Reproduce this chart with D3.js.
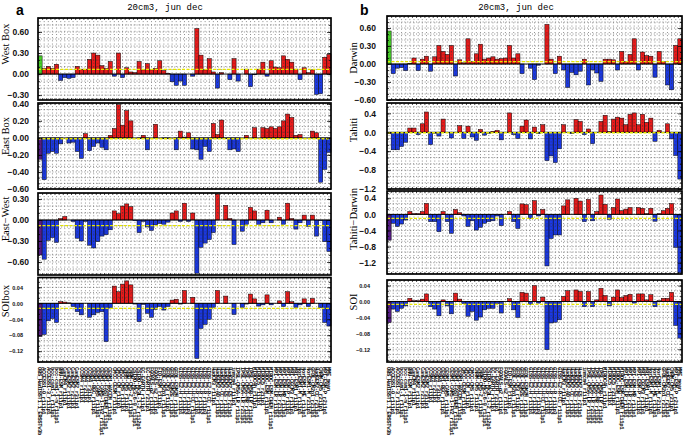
<!DOCTYPE html>
<html>
<head>
<meta charset="utf-8">
<script src="https://cdn.jsdelivr.net/npm/d3@7"></script>
<style>
	body { margin: 0; background: #fff; }
	svg { display: block; }
</style>
</head>
<body>
<div id="chart"></div>
<script>
// ********** ENSO INDEX BAR PANELS **********

// Model labels along the bottom (first entry = observations)
const models = [
	'OBS_HadISST1.1_ERSSTv3b', 'ACCESS1-0_r1i1p1', 'ACCESS1-3_r1i1p1', 'bcc-csm1-1_r1i1p1', 'bcc-csm1-1-m_r1i1p1',
	'BNU-ESM_r1i1p1', 'CanCM4_r1i1p1', 'CanESM2_r1i1p1', 'CanESM2_r2i1p1', 'CanESM2_r3i1p1',
	'CCSM4_r1i1p1', 'CCSM4_r2i1p1', 'CCSM4_r3i1p1', 'CESM1-BGC_r1i1p1', 'CESM1-CAM5_r1i1p1',
	'CESM1-CAM5-1-FV2_r1i1p1', 'CESM1-FASTCHEM_r1i1p1', 'CESM1-WACCM_r1i1p1', 'CMCC-CESM_r1i1p1', 'CMCC-CM_r1i1p1',
	'CMCC-CMS_r1i1p1', 'CNRM-CM5_r1i1p1', 'CNRM-CM5-2_r1i1p1', 'CSIRO-Mk3-6-0_r1i1p1', 'CSIRO-Mk3L-1-2_r1i2p1',
	'EC-EARTH_r1i1p1', 'EC-EARTH_r2i1p1', 'FGOALS-g2_r1i1p1', 'FGOALS-s2_r1i1p1', 'FIO-ESM_r1i1p1',
	'GFDL-CM2p1_r1i1p1', 'GFDL-CM3_r1i1p1', 'GFDL-ESM2G_r1i1p1', 'GFDL-ESM2M_r1i1p1', 'GISS-E2-H_r1i1p1',
	'GISS-E2-H_r1i1p2', 'GISS-E2-H_r1i1p3', 'GISS-E2-H-CC_r1i1p1', 'GISS-E2-R_r1i1p1', 'GISS-E2-R_r1i1p2',
	'GISS-E2-R_r1i1p3', 'GISS-E2-R-CC_r1i1p1', 'HadCM3_r1i1p1', 'HadGEM2-AO_r1i1p1', 'HadGEM2-CC_r1i1p1',
	'HadGEM2-ES_r1i1p1', 'HadGEM2-ES_r2i1p1', 'inmcm4_r1i1p1', 'IPSL-CM5A-LR_r1i1p1', 'IPSL-CM5A-LR_r2i1p1',
	'IPSL-CM5A-MR_r1i1p1', 'IPSL-CM5B-LR_r1i1p1', 'MIROC4h_r1i1p1', 'MIROC5_r1i1p1', 'MIROC5_r2i1p1',
	'MIROC-ESM_r1i1p1', 'MIROC-ESM-CHEM_r1i1p1', 'MPI-ESM-LR_r1i1p1', 'MPI-ESM-LR_r2i1p1', 'MPI-ESM-MR_r1i1p1',
	'MPI-ESM-P_r1i1p1', 'MRI-CGCM3_r1i1p1', 'MRI-ESM1_r1i1p1', 'NorESM1-M_r1i1p1', 'NorESM1-ME_r1i1p1',
	'NorESM1-M_r2i1p1', 'GFDL-CM2p1_r2i1p1', 'HadGEM2-CC_r2i1p1', 'CNRM-CM5_r2i1p1', 'MPI-ESM-P_r2i1p1',
	'MME_mean'
];

// Panel a values
const westBox = [0.26, 0.08, 0.11, 0.08, 0.14, -0.09, -0.05, -0.06, -0.05, 0.11,
	0.07, 0.07, 0.21, 0.30, 0.27, 0.12, 0.08, 0.18, -0.03, 0.30,
	-0.05, 0.09, 0.03, 0.02, 0.18, 0.06, 0.15, 0.06, 0.08, 0.19,
	0.05, 0.01, -0.11, -0.16, -0.10, -0.16, 0.00, -0.03, 0.65, 0.27,
	0.06, 0.22, 0.03, -0.20, 0.02, 0.00, -0.08, 0.22, -0.10, 0.00,
	0.07, -0.18, -0.01, 0.07, 0.17, -0.03, 0.19, 0.10, 0.09, 0.26,
	0.21, 0.17, 0.07, -0.08, 0.09, 0.02, 0.06, -0.29, -0.28, 0.24, 0.28];
const eastBox = [-0.25, -0.49, -0.18, -0.16, -0.18, -0.07, 0.00, -0.06, -0.05, -0.16,
	-0.24, 0.05, -0.15, -0.10, -0.06, -0.11, -0.14, 0.03, 0.11, 0.39,
	0.15, 0.32, 0.20, 0.00, -0.01, 0.03, -0.14, 0.00, 0.16, 0.00,
	-0.01, -0.01, 0.00, -0.14, 0.08, 0.01, 0.06, -0.13, -0.14, -0.25,
	-0.10, -0.16, 0.17, 0.04, 0.21, -0.01, -0.14, -0.13, -0.16, 0.00,
	0.03, 0.00, 0.12, 0.00, 0.12, 0.11, 0.13, 0.11, 0.13, 0.20,
	0.28, 0.24, 0.03, 0.04, 0.00, 0.00, 0.08, 0.06, -0.52, -0.37, -0.17];
const eastWest = [-0.50, -0.56, -0.29, -0.25, -0.32, 0.02, 0.05, 0.00, -0.02, -0.26,
	-0.30, -0.02, -0.36, -0.40, -0.31, -0.23, -0.21, -0.14, 0.13, 0.09,
	0.20, 0.23, 0.19, -0.01, -0.18, -0.02, -0.10, -0.15, -0.07, -0.05,
	-0.06, -0.03, 0.10, 0.13, -0.02, 0.24, -0.02, 0.10, -0.76, -0.39,
	-0.33, -0.28, -0.18, 0.37, 0.00, 0.21, 0.02, -0.35, 0.00, -0.16,
	-0.06, 0.18, 0.13, -0.06, -0.04, 0.14, -0.04, 0.00, 0.04, -0.06,
	0.24, 0.02, -0.13, -0.04, 0.07, -0.09, 0.07, -0.23, -0.01, -0.31, -0.45];
const soiBox = [-0.083, -0.078, -0.044, -0.038, -0.048, 0.004, 0.003, 0.001, -0.008, -0.021,
	-0.029, 0.000, -0.035, -0.029, -0.023, -0.021, -0.096, -0.012, 0.043, 0.029,
	0.048, 0.056, 0.046, -0.002, -0.046, -0.003, -0.025, -0.035, -0.015, -0.008,
	-0.017, -0.008, 0.008, 0.010, -0.002, 0.032, 0.000, 0.015, -0.138, -0.063,
	-0.053, -0.040, -0.010, 0.032, 0.000, 0.018, 0.000, -0.028, 0.000, -0.010,
	-0.002, 0.023, 0.011, -0.007, -0.004, 0.021, -0.004, 0.000, 0.006, -0.008,
	0.029, 0.004, -0.010, -0.004, 0.011, -0.008, 0.012, 0.000, -0.011, -0.048, -0.057];

// Panel b values
const darwin = [0.55, -0.16, -0.07, -0.06, -0.11, 0.01, 0.10, -0.11, 0.08, 0.13,
	-0.12, 0.12, 0.31, 0.21, 0.16, 0.31, -0.20, 0.07, 0.02, 0.42,
	0.04, 0.17, 0.33, 0.08, 0.10, 0.12, 0.08, 0.09, 0.10, 0.31,
	0.10, 0.17, -0.16, 0.00, -0.07, -0.26, -0.02, 0.00, 0.66, 0.08,
	-0.16, 0.13, -0.10, -0.39, -0.14, -0.18, -0.12, 0.08, -0.35, -0.10,
	-0.15, -0.29, 0.08, 0.08, 0.07, -0.10, 0.21, 0.04, 0.16, 0.42,
	-0.10, 0.20, 0.14, 0.13, -0.22, 0.21, 0.04, -0.35, -0.43, 0.31, 0.42];
const tahiti = [-0.03, -0.37, -0.37, -0.30, -0.21, 0.09, 0.09, -0.05, 0.18, 0.43,
	-0.26, -0.02, -0.08, 0.28, 0.00, -0.12, 0.00, 0.14, -0.13, 0.13,
	-0.10, -0.17, 0.06, -0.06, -0.02, 0.02, 0.04, -0.16, 0.00, 0.41,
	-0.05, -0.13, 0.13, 0.26, -0.14, 0.11, -0.03, 0.16, -0.60, -0.50,
	-0.64, -0.35, 0.16, 0.00, -0.03, 0.27, 0.23, -0.05, 0.07, -0.24,
	0.00, 0.23, 0.36, 0.02, 0.28, 0.32, 0.30, 0.16, 0.38, 0.41,
	0.16, 0.38, 0.21, 0.30, -0.19, 0.04, 0.00, 0.18, -0.14, -0.49, -0.99];
const tahitiDarwin = [-0.64, -0.22, -0.30, -0.24, -0.14, 0.07, 0.02, 0.02, 0.07, 0.27,
	-0.18, -0.18, -0.43, 0.07, -0.18, -0.47, 0.12, 0.04, -0.04, -0.30,
	-0.16, -0.39, -0.32, -0.22, -0.18, -0.16, -0.04, -0.28, 0.00, 0.07,
	-0.18, -0.35, 0.26, 0.24, -0.10, 0.34, -0.04, 0.12, -1.28, -0.60,
	-0.51, -0.51, 0.21, 0.36, 0.00, 0.40, 0.33, -0.18, 0.37, -0.16,
	0.07, 0.48, 0.25, -0.12, 0.17, 0.38, 0.09, 0.13, 0.17, 0.00,
	0.17, 0.15, 0.02, 0.15, -0.17, 0.02, 0.09, 0.15, 0.27, -0.82, -1.45];
const soi = [-0.053, -0.019, -0.025, -0.017, -0.011, 0.008, 0.002, 0.002, 0.006, 0.019,
	-0.013, -0.019, -0.036, 0.004, -0.011, -0.031, 0.021, 0.006, -0.005, -0.037,
	-0.025, -0.047, -0.039, -0.021, -0.017, -0.017, -0.005, -0.029, 0.000, 0.007,
	-0.021, -0.040, 0.023, 0.021, -0.007, 0.040, -0.004, 0.011, -0.121, -0.054,
	-0.052, -0.046, 0.013, 0.027, 0.000, 0.029, 0.025, -0.013, 0.025, -0.013,
	0.004, 0.033, 0.015, -0.011, 0.011, 0.029, 0.010, 0.015, 0.018, -0.004,
	0.019, 0.019, 0.004, 0.017, -0.013, 0.002, 0.008, 0.008, 0.023, -0.060, -0.092];

// Multi-model mean (yellow dashed line) per panel
const means = {
	west: 0.067, east: -0.01, eastWest: -0.08, soiBox: -0.013,
	darwin: 0.04, tahiti: -0.01, tahitiDarwin: -0.10, soi: -0.007
};

// Tick labels per panel
const ticks3 = [-0.60, -0.30, 0.00, 0.30, 0.60];
const ticksEast = [-0.60, -0.40, -0.20, 0.00, 0.20, 0.40];
const ticks4 = [-1.2, -0.8, -0.4, 0.0, 0.4];
const ticksSoi = [-0.12, -0.08, -0.04, 0.00, 0.04];

// Colours
const red = '#ec1a1a', blue = '#1a38e4', green = '#4ad62a', purple = '#5a1c8c', yellow = '#e6e600';

const width = 685, height = 446;

const svg = d3.select('#chart')
	.append('svg')
	.attr('width', width)
	.attr('height', height);

const fmt2 = v => d3.format('.2f')(v).replace('-', '\u2212');
const fmt1 = v => d3.format('.1f')(v).replace('-', '\u2212');

// Panel layouts
const panelsA = [
	{ title: 'West Box', values: westBox, mean: means.west, top: 18, bottom: 100, domain: [-0.37, 0.8], major: 0.3, ticks: ticks3, fmt: fmt2, fs: 8.5, pad: 9, first: green, titleY: 44 },
	{ title: 'East Box', values: eastBox, mean: means.east, top: 103, bottom: 189, domain: [-0.6, 0.41], major: 0.2, ticks: ticksEast, fmt: fmt2, fs: 8.5, pad: 9, first: purple, titleY: 136 },
	{ title: 'East\u2212West', values: eastWest, mean: means.eastWest, top: 193, bottom: 275, domain: [-0.786, 0.386], major: 0.3, ticks: ticks3, fmt: fmt2, fs: 8.5, pad: 9, first: purple, titleY: 219 },
	{ title: 'SOIbox', values: soiBox, mean: means.soiBox, top: 277.5, bottom: 362, domain: [-0.147, 0.0645], major: 0.04, ticks: ticksSoi, fmt: fmt2, fs: 5.5, pad: 15, first: purple, titleY: 301 }
];
const panelsB = [
	{ title: 'Darwin', values: darwin, mean: means.darwin, top: 16, bottom: 100, domain: [-0.6, 0.8], major: 0.3, ticks: ticks3, fmt: fmt2, fs: 8.5, pad: 11, first: green, titleY: 58 },
	{ title: 'Tahiti', values: tahiti, mean: means.tahiti, top: 103, bottom: 189, domain: [-1.2, 0.62], major: 0.4, ticks: ticks4, fmt: fmt1, fs: 8.5, pad: 11, first: purple, titleY: 130 },
	{ title: 'Tahiti\u2212Darwin', values: tahitiDarwin, mean: means.tahitiDarwin, top: 191, bottom: 274, domain: [-1.48, 0.58], major: 0.4, ticks: ticks4, fmt: fmt1, fs: 8.5, pad: 11, first: purple, titleY: 219 },
	{ title: 'SOI', values: soi, mean: means.soi, top: 280, bottom: 362, domain: [-0.152, 0.054], major: 0.04, ticks: ticksSoi, fmt: fmt2, fs: 5.5, pad: 17, first: purple, titleY: 302 }
];

// Axis helper: inward ticks with no domain path and no empty labels
const tickAxis = (g, axis, labelled) => {
	g.call(axis);
	g.select('.domain').remove();
	if (!labelled) g.selectAll('text').remove();
	g.selectAll('.tick line').attr('stroke', '#000').attr('stroke-width', 0.7);
	return g;
};

// Draw one bar panel
const drawPanel = (p, x0, x1, titleX) => {
	const g = svg.append('g').attr('class', 'panel');
	const n = p.values.length;

	const x = d3.scaleBand()
		.domain(d3.range(n))
		.range([x0, x1]);

	const y = d3.scaleLinear()
		.domain(p.domain)
		.range([p.bottom, p.top]);

	// Only keep the major ticks that fall inside this panel
	const inside = v => v >= p.domain[0] - 1e-9 && v <= p.domain[1] + 1e-9;
	const major = p.ticks.filter(inside);

	// Bars
	g.selectAll('rect.bar')
		.data(p.values)
		.enter()
		.append('rect')
		.attr('class', 'bar')
		.attr('x', (d, i) => x(i))
		.attr('width', x.bandwidth())
		.attr('y', d => y(Math.max(0, d)))
		.attr('height', d => Math.abs(y(d) - y(0)))
		.attr('fill', (d, i) => i === 0 ? p.first : (d >= 0 ? red : blue))
		.attr('stroke', '#000')
		.attr('stroke-width', 0.5);

	// Dotted grid drawn over the bars
	const step = p.major / 3;
	const minor = d3.range(Math.ceil(p.domain[0] / step - 1e-6), Math.floor(p.domain[1] / step + 1e-6) + 1)
		.map(k => k * step);

	g.selectAll('line.hgrid')
		.data(minor.filter(v => Math.abs(v) > 1e-9))
		.enter()
		.append('line')
		.attr('x1', x0).attr('x2', x1)
		.attr('y1', d => y(d)).attr('y2', d => y(d))
		.attr('stroke', '#333')
		.attr('stroke-width', 0.6)
		.attr('stroke-dasharray', '0.9,2');

	g.selectAll('line.vgrid')
		.data(d3.range(n))
		.enter()
		.append('line')
		.attr('x1', d => x(d) + x.bandwidth() / 2).attr('x2', d => x(d) + x.bandwidth() / 2)
		.attr('y1', p.top).attr('y2', p.bottom)
		.attr('stroke', '#333')
		.attr('stroke-width', 0.6)
		.attr('stroke-dasharray', '0.9,2.3');

	// Zero line
	g.append('line')
		.attr('x1', x0).attr('x2', x1)
		.attr('y1', y(0)).attr('y2', y(0))
		.attr('stroke', '#000')
		.attr('stroke-width', 0.9);

	// Mean line (yellow dashed)
	g.append('line')
		.attr('x1', x0).attr('x2', x1)
		.attr('y1', y(p.mean)).attr('y2', y(p.mean))
		.attr('stroke', yellow)
		.attr('stroke-width', 1.3)
		.attr('stroke-dasharray', '3,1.5');

	// Left axis: major ticks with labels, then minor ticks
	const left = tickAxis(g.append('g').attr('transform', `translate(${x0},0)`),
		d3.axisLeft(y).tickValues(major).tickSize(-4).tickPadding(p.pad).tickFormat(p.fmt), true);
	left.selectAll('text')
		.attr('font-family', 'Liberation Sans, Arial, sans-serif')
		.attr('font-size', p.fs)
		.attr('font-weight', 'bold')
		.attr('fill', '#111');

	tickAxis(g.append('g').attr('transform', `translate(${x0},0)`),
		d3.axisLeft(y).tickValues(minor).tickSize(-2), false);

	// Right axis, ticks only
	tickAxis(g.append('g').attr('transform', `translate(${x1},0)`),
		d3.axisRight(y).tickValues(major).tickSize(-4), false);
	tickAxis(g.append('g').attr('transform', `translate(${x1},0)`),
		d3.axisRight(y).tickValues(minor).tickSize(-2), false);

	// Small ticks at each bar along top and bottom
	const xPos = d3.scaleLinear().domain([0, n]).range([x0, x1]);
	const slotTicks = d3.range(1, n);

	tickAxis(g.append('g').attr('transform', `translate(0,${p.top})`),
		d3.axisTop(xPos).tickValues(slotTicks).tickSize(-2), false);
	tickAxis(g.append('g').attr('transform', `translate(0,${p.bottom})`),
		d3.axisBottom(xPos).tickValues(slotTicks).tickSize(-2), false);

	// Frame
	g.append('rect')
		.attr('x', x0).attr('y', p.top)
		.attr('width', x1 - x0).attr('height', p.bottom - p.top)
		.attr('fill', 'none')
		.attr('stroke', '#000')
		.attr('stroke-width', 1.7);

	// Y title
	g.append('text')
		.attr('transform', `translate(${titleX},${p.titleY}) rotate(-90)`)
		.attr('text-anchor', 'middle')
		.attr('font-family', 'Liberation Serif, Times New Roman, serif')
		.attr('font-size', 10.5)
		.text(p.title);
};

// Model labels below the panels (rotated, reading downwards)
const drawLabels = (x0, x1) => {
	const x = d3.scaleBand().domain(d3.range(models.length)).range([x0, x1]);
	svg.append('g')
		.selectAll('text')
		.data(models)
		.enter()
		.append('text')
		.attr('transform', (d, i) => `translate(${x(i) + 0.3},367) rotate(90)`)
		.attr('font-family', 'Liberation Mono, Courier New, monospace')
		.attr('font-size', 5.6)
		.attr('font-weight', 'bold')
		.attr('letter-spacing', -0.4)
		.attr('fill', '#000')
		.text(d => d);
};

// Column headers
const drawHeader = (letter, lx, cx) => {
	svg.append('text')
		.attr('x', lx).attr('y', 15)
		.attr('font-family', 'Liberation Sans, Arial, sans-serif')
		.attr('font-weight', 'bold')
		.attr('font-size', 14)
		.text(letter);
	svg.append('text')
		.attr('x', cx).attr('y', 10)
		.attr('text-anchor', 'middle')
		.attr('font-family', 'Liberation Mono, Courier New, monospace')
		.attr('font-size', 9)
		.text('20cm3, jun dec');
};

drawHeader('a', 16, 165);
drawHeader('b', 360, 516);

panelsA.forEach(p => drawPanel(p, 38, 331, 9));
panelsB.forEach(p => drawPanel(p, 387, 682, 357));

drawLabels(38, 331);
drawLabels(387, 682);
</script>
</body>
</html>
